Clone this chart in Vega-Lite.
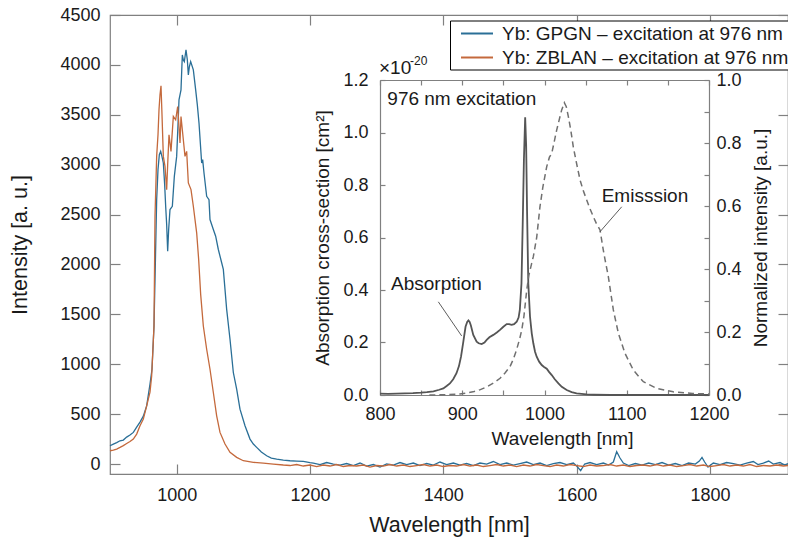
{
  "$schema": "https://vega.github.io/schema/vega-lite/v6.json",
  "width": 678,
  "height": 459,
  "autosize": {"type": "none"},
  "padding": {"left": 110, "top": 15, "right": 0, "bottom": 64},
  "config": {
    "font": "Liberation Sans",
    "view": {"stroke": "#808080", "strokeWidth": 1.2},
    "axis": {"domainColor": "#808080", "tickColor": "#808080", "labelColor": "#1a1a1a", "titleColor": "#1a1a1a", "titleFontWeight": "normal", "grid": false, "labelFlush": false, "labelOverlap": false, "tickWidth": 1.2, "domainWidth": 1.2}
  },
  "datasets": {
    "main": [
      {"s":"GPGN","w":900,"v":183},{"s":"GPGN","w":905,"v":200},{"s":"GPGN","w":910,"v":215},{"s":"GPGN","w":915,"v":233},{"s":"GPGN","w":920,"v":240},{"s":"GPGN","w":925,"v":270},{"s":"GPGN","w":930,"v":290},{"s":"GPGN","w":935,"v":317},{"s":"GPGN","w":940,"v":370},{"s":"GPGN","w":945,"v":420},{"s":"GPGN","w":950,"v":480},{"s":"GPGN","w":955,"v":583},{"s":"GPGN","w":960,"v":800},{"s":"GPGN","w":963,"v":950},{"s":"GPGN","w":966,"v":1383},{"s":"GPGN","w":968,"v":2000},{"s":"GPGN","w":970,"v":2650},{"s":"GPGN","w":972,"v":2950},{"s":"GPGN","w":974,"v":3100},{"s":"GPGN","w":976,"v":3133},{"s":"GPGN","w":978,"v":3080},{"s":"GPGN","w":980,"v":3017},{"s":"GPGN","w":982,"v":2800},{"s":"GPGN","w":983.5,"v":2583},{"s":"GPGN","w":985,"v":2400},{"s":"GPGN","w":986.5,"v":2133},{"s":"GPGN","w":988,"v":2350},{"s":"GPGN","w":990,"v":2550},{"s":"GPGN","w":993.5,"v":2583},{"s":"GPGN","w":996.5,"v":2883},{"s":"GPGN","w":1000,"v":3083},{"s":"GPGN","w":1002,"v":3400},{"s":"GPGN","w":1003.5,"v":3650},{"s":"GPGN","w":1006.5,"v":3750},{"s":"GPGN","w":1008.5,"v":4100},{"s":"GPGN","w":1010,"v":4050},{"s":"GPGN","w":1011.5,"v":4033},{"s":"GPGN","w":1014,"v":4150},{"s":"GPGN","w":1016,"v":4050},{"s":"GPGN","w":1017.5,"v":3900},{"s":"GPGN","w":1019,"v":3980},{"s":"GPGN","w":1021,"v":4033},{"s":"GPGN","w":1025,"v":3950},{"s":"GPGN","w":1028.5,"v":3750},{"s":"GPGN","w":1031,"v":3600},{"s":"GPGN","w":1033.5,"v":3417},{"s":"GPGN","w":1037.5,"v":3017},{"s":"GPGN","w":1039,"v":3050},{"s":"GPGN","w":1041,"v":2917},{"s":"GPGN","w":1045,"v":2683},{"s":"GPGN","w":1048.5,"v":2650},{"s":"GPGN","w":1050,"v":2450},{"s":"GPGN","w":1055,"v":2350},{"s":"GPGN","w":1058.5,"v":2283},{"s":"GPGN","w":1062.5,"v":2150},{"s":"GPGN","w":1067.5,"v":2017},{"s":"GPGN","w":1070,"v":1950},{"s":"GPGN","w":1075,"v":1550},{"s":"GPGN","w":1080,"v":1250},{"s":"GPGN","w":1085,"v":917},{"s":"GPGN","w":1090,"v":750},{"s":"GPGN","w":1095,"v":550},{"s":"GPGN","w":1102.5,"v":383},{"s":"GPGN","w":1110,"v":250},{"s":"GPGN","w":1115,"v":200},{"s":"GPGN","w":1120,"v":167},{"s":"GPGN","w":1127,"v":120},{"s":"GPGN","w":1135,"v":83},{"s":"GPGN","w":1142,"v":60},{"s":"GPGN","w":1150,"v":50},{"s":"GPGN","w":1160,"v":40},{"s":"GPGN","w":1170,"v":33},{"s":"GPGN","w":1180,"v":30},{"s":"GPGN","w":1190,"v":27},{"s":"GPGN","w":1200,"v":15},
      {"s":"GPGN","w":1205,"v":10},{"s":"GPGN","w":1215,"v":-5},{"s":"GPGN","w":1225,"v":15},{"s":"GPGN","w":1235,"v":0},{"s":"GPGN","w":1245,"v":-10},{"s":"GPGN","w":1255,"v":5},{"s":"GPGN","w":1265,"v":-15},{"s":"GPGN","w":1275,"v":10},{"s":"GPGN","w":1285,"v":-20},{"s":"GPGN","w":1295,"v":-5},{"s":"GPGN","w":1305,"v":-30},{"s":"GPGN","w":1315,"v":0},{"s":"GPGN","w":1325,"v":-10},{"s":"GPGN","w":1335,"v":15},{"s":"GPGN","w":1345,"v":-5},{"s":"GPGN","w":1355,"v":10},{"s":"GPGN","w":1365,"v":-15},{"s":"GPGN","w":1375,"v":5},{"s":"GPGN","w":1385,"v":-10},{"s":"GPGN","w":1395,"v":20},{"s":"GPGN","w":1405,"v":-5},{"s":"GPGN","w":1415,"v":10},{"s":"GPGN","w":1425,"v":-10},{"s":"GPGN","w":1435,"v":5},{"s":"GPGN","w":1445,"v":-15},{"s":"GPGN","w":1455,"v":10},{"s":"GPGN","w":1465,"v":0},{"s":"GPGN","w":1475,"v":25},{"s":"GPGN","w":1485,"v":-5},{"s":"GPGN","w":1495,"v":10},{"s":"GPGN","w":1505,"v":-10},{"s":"GPGN","w":1515,"v":5},{"s":"GPGN","w":1525,"v":20},{"s":"GPGN","w":1535,"v":-5},{"s":"GPGN","w":1545,"v":10},{"s":"GPGN","w":1555,"v":-15},{"s":"GPGN","w":1565,"v":5},{"s":"GPGN","w":1575,"v":15},{"s":"GPGN","w":1585,"v":-5},{"s":"GPGN","w":1595,"v":10},{"s":"GPGN","w":1600,"v":-20},{"s":"GPGN","w":1606,"v":-67},{"s":"GPGN","w":1612,"v":0},{"s":"GPGN","w":1620,"v":15},{"s":"GPGN","w":1630,"v":-5},{"s":"GPGN","w":1640,"v":10},{"s":"GPGN","w":1648,"v":-10},{"s":"GPGN","w":1655,"v":20},{"s":"GPGN","w":1660,"v":123},{"s":"GPGN","w":1665,"v":60},{"s":"GPGN","w":1670,"v":10},{"s":"GPGN","w":1678,"v":-15},{"s":"GPGN","w":1688,"v":5},{"s":"GPGN","w":1698,"v":-10},{"s":"GPGN","w":1708,"v":10},{"s":"GPGN","w":1718,"v":-5},{"s":"GPGN","w":1728,"v":15},{"s":"GPGN","w":1738,"v":-10},{"s":"GPGN","w":1748,"v":5},{"s":"GPGN","w":1758,"v":-15},{"s":"GPGN","w":1768,"v":10},{"s":"GPGN","w":1778,"v":0},{"s":"GPGN","w":1784,"v":30},{"s":"GPGN","w":1788,"v":67},{"s":"GPGN","w":1792,"v":20},{"s":"GPGN","w":1797,"v":-30},{"s":"GPGN","w":1805,"v":10},{"s":"GPGN","w":1815,"v":-5},{"s":"GPGN","w":1825,"v":15},{"s":"GPGN","w":1835,"v":5},{"s":"GPGN","w":1845,"v":-10},{"s":"GPGN","w":1855,"v":10},{"s":"GPGN","w":1865,"v":25},{"s":"GPGN","w":1872,"v":-5},{"s":"GPGN","w":1880,"v":10},{"s":"GPGN","w":1888,"v":30},{"s":"GPGN","w":1895,"v":0},{"s":"GPGN","w":1905,"v":15},{"s":"GPGN","w":1912,"v":-10},{"s":"GPGN","w":1917,"v":5},
      {"s":"ZBLAN","w":900,"v":133},{"s":"ZBLAN","w":905,"v":140},{"s":"ZBLAN","w":910,"v":150},{"s":"ZBLAN","w":915,"v":167},{"s":"ZBLAN","w":920,"v":185},{"s":"ZBLAN","w":925,"v":205},{"s":"ZBLAN","w":930,"v":225},{"s":"ZBLAN","w":935,"v":250},{"s":"ZBLAN","w":940,"v":300},{"s":"ZBLAN","w":945,"v":383},{"s":"ZBLAN","w":950,"v":450},{"s":"ZBLAN","w":955,"v":583},{"s":"ZBLAN","w":960,"v":720},{"s":"ZBLAN","w":962.5,"v":883},{"s":"ZBLAN","w":966,"v":1383},{"s":"ZBLAN","w":967.5,"v":2483},{"s":"ZBLAN","w":970,"v":3083},{"s":"ZBLAN","w":972,"v":3300},{"s":"ZBLAN","w":973.5,"v":3550},{"s":"ZBLAN","w":975,"v":3700},{"s":"ZBLAN","w":976.5,"v":3790},{"s":"ZBLAN","w":978,"v":3500},{"s":"ZBLAN","w":980,"v":3083},{"s":"ZBLAN","w":982.5,"v":2983},{"s":"ZBLAN","w":985,"v":2750},{"s":"ZBLAN","w":986.5,"v":3000},{"s":"ZBLAN","w":988.5,"v":3300},{"s":"ZBLAN","w":991.5,"v":3133},{"s":"ZBLAN","w":995,"v":3483},{"s":"ZBLAN","w":998.5,"v":3450},{"s":"ZBLAN","w":1001.5,"v":3583},{"s":"ZBLAN","w":1003.5,"v":3383},{"s":"ZBLAN","w":1005,"v":3217},{"s":"ZBLAN","w":1006.5,"v":3483},{"s":"ZBLAN","w":1010,"v":3250},{"s":"ZBLAN","w":1012.5,"v":3083},{"s":"ZBLAN","w":1015,"v":3133},{"s":"ZBLAN","w":1017.5,"v":2817},{"s":"ZBLAN","w":1021.5,"v":2750},{"s":"ZBLAN","w":1025,"v":2583},{"s":"ZBLAN","w":1030,"v":2317},{"s":"ZBLAN","w":1033,"v":2050},{"s":"ZBLAN","w":1036,"v":1700},{"s":"ZBLAN","w":1040,"v":1383},{"s":"ZBLAN","w":1045,"v":1150},{"s":"ZBLAN","w":1050,"v":950},{"s":"ZBLAN","w":1055,"v":717},{"s":"ZBLAN","w":1060,"v":483},{"s":"ZBLAN","w":1065,"v":317},{"s":"ZBLAN","w":1072.5,"v":200},{"s":"ZBLAN","w":1080,"v":117},{"s":"ZBLAN","w":1090,"v":67},{"s":"ZBLAN","w":1100,"v":33},{"s":"ZBLAN","w":1115,"v":17},{"s":"ZBLAN","w":1130,"v":10},{"s":"ZBLAN","w":1145,"v":0},{"s":"ZBLAN","w":1160,"v":-10},
      {"s":"ZBLAN","w":1170,"v":-15},{"s":"ZBLAN","w":1180,"v":-5},{"s":"ZBLAN","w":1190,"v":-20},{"s":"ZBLAN","w":1200,"v":-10},{"s":"ZBLAN","w":1210,"v":-25},{"s":"ZBLAN","w":1220,"v":-10},{"s":"ZBLAN","w":1230,"v":-20},{"s":"ZBLAN","w":1240,"v":-5},{"s":"ZBLAN","w":1250,"v":-25},{"s":"ZBLAN","w":1260,"v":-15},{"s":"ZBLAN","w":1270,"v":-20},{"s":"ZBLAN","w":1280,"v":-10},{"s":"ZBLAN","w":1290,"v":-30},{"s":"ZBLAN","w":1300,"v":-15},{"s":"ZBLAN","w":1310,"v":-20},{"s":"ZBLAN","w":1320,"v":-5},{"s":"ZBLAN","w":1330,"v":-20},{"s":"ZBLAN","w":1340,"v":-10},{"s":"ZBLAN","w":1350,"v":-25},{"s":"ZBLAN","w":1360,"v":-15},{"s":"ZBLAN","w":1370,"v":-5},{"s":"ZBLAN","w":1380,"v":-20},{"s":"ZBLAN","w":1390,"v":-10},{"s":"ZBLAN","w":1400,"v":-25},{"s":"ZBLAN","w":1410,"v":-15},{"s":"ZBLAN","w":1420,"v":-20},{"s":"ZBLAN","w":1430,"v":-5},{"s":"ZBLAN","w":1440,"v":-20},{"s":"ZBLAN","w":1450,"v":-10},{"s":"ZBLAN","w":1460,"v":-25},{"s":"ZBLAN","w":1470,"v":-15},{"s":"ZBLAN","w":1480,"v":-5},{"s":"ZBLAN","w":1490,"v":-20},{"s":"ZBLAN","w":1500,"v":-10},{"s":"ZBLAN","w":1510,"v":-25},{"s":"ZBLAN","w":1520,"v":-10},{"s":"ZBLAN","w":1530,"v":-20},{"s":"ZBLAN","w":1540,"v":-5},{"s":"ZBLAN","w":1550,"v":-15},{"s":"ZBLAN","w":1560,"v":-25},{"s":"ZBLAN","w":1570,"v":-10},{"s":"ZBLAN","w":1580,"v":-20},{"s":"ZBLAN","w":1590,"v":-5},{"s":"ZBLAN","w":1600,"v":-15},{"s":"ZBLAN","w":1610,"v":-25},{"s":"ZBLAN","w":1620,"v":-10},{"s":"ZBLAN","w":1630,"v":-20},{"s":"ZBLAN","w":1640,"v":-15},{"s":"ZBLAN","w":1650,"v":-5},{"s":"ZBLAN","w":1660,"v":-20},{"s":"ZBLAN","w":1670,"v":-10},{"s":"ZBLAN","w":1680,"v":-25},{"s":"ZBLAN","w":1690,"v":-15},{"s":"ZBLAN","w":1700,"v":-10},{"s":"ZBLAN","w":1710,"v":-20},{"s":"ZBLAN","w":1720,"v":-5},{"s":"ZBLAN","w":1730,"v":-20},{"s":"ZBLAN","w":1740,"v":-10},{"s":"ZBLAN","w":1750,"v":-25},{"s":"ZBLAN","w":1760,"v":-15},{"s":"ZBLAN","w":1770,"v":-5},{"s":"ZBLAN","w":1780,"v":-20},{"s":"ZBLAN","w":1790,"v":-10},{"s":"ZBLAN","w":1800,"v":-25},{"s":"ZBLAN","w":1810,"v":-15},{"s":"ZBLAN","w":1820,"v":-5},{"s":"ZBLAN","w":1830,"v":-20},{"s":"ZBLAN","w":1840,"v":-10},{"s":"ZBLAN","w":1850,"v":-20},{"s":"ZBLAN","w":1860,"v":-5},{"s":"ZBLAN","w":1870,"v":-25},{"s":"ZBLAN","w":1880,"v":-15},{"s":"ZBLAN","w":1890,"v":-20},{"s":"ZBLAN","w":1900,"v":-10},{"s":"ZBLAN","w":1910,"v":-20},{"s":"ZBLAN","w":1917,"v":-15}
    ],
    "abs": [
      {"w":800,"a":0.005},{"w":810,"a":0.004},{"w":820,"a":0.005},{"w":830,"a":0.006},{"w":840,"a":0.007},{"w":850,"a":0.009},{"w":857,"a":0.011},{"w":865,"a":0.014},{"w":872,"a":0.02},{"w":877,"a":0.025},{"w":881,"a":0.034},{"w":885,"a":0.044},{"w":889,"a":0.06},{"w":893,"a":0.083},{"w":896,"a":0.11},{"w":898.5,"a":0.146},{"w":901,"a":0.197},{"w":904,"a":0.26},{"w":906,"a":0.278},{"w":907.5,"a":0.284},{"w":909,"a":0.278},{"w":910.5,"a":0.265},{"w":913.4,"a":0.229},{"w":917.5,"a":0.203},{"w":920,"a":0.197},{"w":923.6,"a":0.194},{"w":927,"a":0.2},{"w":929.7,"a":0.21},{"w":933,"a":0.22},{"w":937.8,"a":0.229},{"w":942,"a":0.238},{"w":945.9,"a":0.248},{"w":950,"a":0.26},{"w":954,"a":0.27},{"w":957,"a":0.27},{"w":960,"a":0.267},{"w":963,"a":0.27},{"w":966.2,"a":0.279},{"w":968.5,"a":0.295},{"w":970,"a":0.324},{"w":972,"a":0.425},{"w":973.5,"a":0.65},{"w":975,"a":0.9},{"w":976.5,"a":1.058},{"w":977.7,"a":0.95},{"w":978.8,"a":0.7},{"w":980.3,"a":0.425},{"w":982.4,"a":0.298},{"w":984.5,"a":0.235},{"w":986.4,"a":0.197},{"w":988.5,"a":0.165},{"w":990.5,"a":0.146},{"w":993.5,"a":0.127},{"w":996.6,"a":0.114},{"w":999.5,"a":0.107},{"w":1002.7,"a":0.1},{"w":1005.5,"a":0.088},{"w":1008.8,"a":0.076},{"w":1012.5,"a":0.06},{"w":1016.9,"a":0.044},{"w":1021,"a":0.031},{"w":1027,"a":0.019},{"w":1033,"a":0.011},{"w":1039,"a":0.006},{"w":1045,"a":0.004},{"w":1051,"a":0.002},{"w":1060,"a":0.001},{"w":1080,"a":0},{"w":1100,"a":0},{"w":1150,"a":0},{"w":1200,"a":0}
    ],
    "emis": [
      {"w":860,"e":0},{"w":880,"e":0.001},{"w":897,"e":0.003},{"w":913,"e":0.01},{"w":922,"e":0.017},{"w":930,"e":0.026},{"w":938,"e":0.038},{"w":946,"e":0.053},{"w":952,"e":0.07},{"w":958,"e":0.09},{"w":962,"e":0.113},{"w":966,"e":0.143},{"w":970,"e":0.18},{"w":972.3,"e":0.206},{"w":975,"e":0.25},{"w":978.4,"e":0.333},{"w":981,"e":0.38},{"w":984.4,"e":0.418},{"w":986.4,"e":0.439},{"w":990.5,"e":0.5},{"w":994.5,"e":0.598},{"w":998,"e":0.66},{"w":1002.7,"e":0.725},{"w":1006,"e":0.755},{"w":1008.8,"e":0.767},{"w":1011.5,"e":0.8},{"w":1014.8,"e":0.841},{"w":1018,"e":0.875},{"w":1020.9,"e":0.905},{"w":1024.1,"e":0.928},{"w":1026.5,"e":0.915},{"w":1029,"e":0.884},{"w":1032,"e":0.84},{"w":1035,"e":0.788},{"w":1039,"e":0.735},{"w":1043.2,"e":0.683},{"w":1047,"e":0.65},{"w":1051.3,"e":0.619},{"w":1055,"e":0.593},{"w":1059.4,"e":0.566},{"w":1063,"e":0.545},{"w":1067.5,"e":0.524},{"w":1071.5,"e":0.46},{"w":1073.6,"e":0.43},{"w":1077.6,"e":0.376},{"w":1083.7,"e":0.27},{"w":1089.8,"e":0.196},{"w":1097.9,"e":0.132},{"w":1108,"e":0.079},{"w":1120.2,"e":0.042},{"w":1136.4,"e":0.021},{"w":1156.6,"e":0.01},{"w":1180,"e":0.005},{"w":1200,"e":0.003}
    ],
    "notes": [
      {"x":808.9,"y":1.128,"t":"976 nm excitation"},
      {"x":813.4,"y":0.423,"t":"Absorption"},
      {"x":1069.5,"y":0.76,"t":"Emisssion"},
      {"x":798.8,"y":1.246,"t":"×10"}
    ],
    "sup": [
      {"x":836.5,"y":1.272,"t":"-20"}
    ],
    "leaders": [
      {"x1":870.9,"y1":0.355,"x2":899.3,"y2":0.225},
      {"x1":1093.9,"y1":0.717,"x2":1067.5,"y2":0.622}
    ]
  },
  "layer": [
    {
      "data": {"name": "main"},
      "mark": {"type": "line", "strokeWidth": 1.3},
      "encoding": {
        "x": {"field": "w", "type": "quantitative", "scale": {"domain": [900, 1917], "nice": false, "zero": false},
              "axis": {"orient": "bottom", "values": [1000, 1200, 1400, 1600, 1800], "format": "d", "tickSize": -10, "labelPadding": 22, "labelFontSize": 18, "title": "Wavelength [nm]", "titleFontSize": 21.5, "titlePadding": 10, "domain": false}},
        "y": {"field": "v", "type": "quantitative", "scale": {"domain": [-100, 4500], "nice": false, "zero": false},
              "axis": {"orient": "left", "values": [0, 500, 1000, 1500, 2000, 2500, 3000, 3500, 4000, 4500], "format": "d", "tickSize": -10, "labelPadding": 20, "labelFontSize": 18, "title": "Intensity [a. u.]", "titleFontSize": 21.5, "titlePadding": 28, "domain": false}},
        "color": {"field": "s", "type": "nominal", "scale": {"domain": ["GPGN", "ZBLAN"], "range": ["#2a6f97", "#c4693c"]},
                  "legend": {"orient": "none", "legendX": 340, "legendY": 5.5, "title": null, "symbolType": "M-0.2,0H3", "symbolSize": 400, "symbolStrokeWidth": 2, "labelFontSize": 19, "labelOffset": 28, "labelLimit": 400, "padding": 2, "rowPadding": 3, "strokeColor": "#000000", "fillColor": "#ffffff", "labelColor": "#1a1a1a",
                             "labelExpr": "'Yb: ' + datum.label + ' – excitation at 976 nm'"}}
      }
    },
    {
      "data": {"name": "main"},
      "mark": {"type": "point", "opacity": 0},
      "encoding": {
        "x": {"field": "w", "type": "quantitative", "scale": {"domain": [900, 1917], "nice": false, "zero": false},
              "axis": {"orient": "top", "values": [1000, 1200, 1400, 1600, 1800], "tickSize": -10, "labels": false, "domain": false, "title": null}},
        "y": {"field": "v", "type": "quantitative", "scale": {"domain": [-100, 4500], "nice": false, "zero": false},
              "axis": {"orient": "right", "values": [0, 500, 1000, 1500, 2000, 2500, 3000, 3500, 4000, 4500], "tickSize": -10, "labels": false, "domain": false, "title": null}}
      }
    },
    {
      "data": {"name": "abs"},
      "mark": {"type": "line", "color": "#555555", "strokeWidth": 1.8},
      "encoding": {
        "x": {"field": "w", "type": "quantitative", "scale": {"domain": [800, 1200], "range": [270, 599], "nice": false, "zero": false},
              "axis": {"orient": "bottom", "offset": -79, "values": [800, 850, 900, 950, 1000, 1050, 1100, 1150, 1200], "format": "d", "labelExpr": "datum.value % 100 == 0 ? datum.label : ''", "tickSize": -5, "labelPadding": 15, "labelFontSize": 18, "title": "Wavelength [nm]", "titleFontSize": 19, "titlePadding": 6, "titleX": 452}},
        "y": {"field": "a", "type": "quantitative", "scale": {"domain": [0, 1.2], "range": [380, 65], "nice": false, "zero": false},
              "axis": {"orient": "left", "offset": -270, "values": [0, 0.2, 0.4, 0.6, 0.8, 1, 1.2], "format": ".1f", "tickSize": -5, "labelPadding": 17, "labelFontSize": 18, "title": "Absorption cross-section [cm²]", "titleFontSize": 19, "titlePadding": 10}}
      }
    },
    {
      "data": {"name": "emis"},
      "mark": {"type": "line", "color": "#707070", "strokeWidth": 1.5, "strokeDash": [6, 4]},
      "encoding": {
        "x": {"field": "w", "type": "quantitative", "scale": {"domain": [800, 1200], "range": [270, 599], "nice": false, "zero": false},
              "axis": {"orient": "top", "offset": -65, "values": [800, 850, 900, 950, 1000, 1050, 1100, 1150, 1200], "tickSize": -5, "labels": false, "title": null}},
        "y": {"field": "e", "type": "quantitative", "scale": {"domain": [0, 1], "range": [380, 65], "nice": false, "zero": false},
              "axis": {"orient": "right", "offset": -79, "values": [0, 0.1, 0.2, 0.3, 0.4, 0.5, 0.6, 0.7, 0.8, 0.9, 1], "labelExpr": "abs(round(datum.value * 10) % 2) == 0 ? format(datum.value, '.1f') : ''", "tickSize": -5, "labelPadding": 12, "labelFontSize": 18, "title": "Normalized intensity [a.u.]", "titleFontSize": 19, "titleAngle": 270, "titleBaseline": "top", "titlePadding": 10}}
      }
    },
    {
      "data": {"name": "notes"},
      "mark": {"type": "text", "align": "left", "baseline": "middle", "fontSize": 19, "color": "#1a1a1a"},
      "encoding": {
        "x": {"field": "x", "type": "quantitative", "scale": {"domain": [800, 1200], "range": [270, 599], "nice": false, "zero": false}, "axis": null},
        "y": {"field": "y", "type": "quantitative", "scale": {"domain": [0, 1.2], "range": [380, 65], "nice": false, "zero": false}, "axis": null},
        "text": {"field": "t"}
      }
    },
    {
      "data": {"name": "sup"},
      "mark": {"type": "text", "align": "left", "baseline": "middle", "fontSize": 12, "color": "#1a1a1a"},
      "encoding": {
        "x": {"field": "x", "type": "quantitative", "scale": {"domain": [800, 1200], "range": [270, 599], "nice": false, "zero": false}, "axis": null},
        "y": {"field": "y", "type": "quantitative", "scale": {"domain": [0, 1.2], "range": [380, 65], "nice": false, "zero": false}, "axis": null},
        "text": {"field": "t"}
      }
    },
    {
      "data": {"name": "leaders"},
      "mark": {"type": "rule", "color": "#333333", "strokeWidth": 0.8},
      "encoding": {
        "x": {"field": "x1", "type": "quantitative", "scale": {"domain": [800, 1200], "range": [270, 599], "nice": false, "zero": false}, "axis": null},
        "y": {"field": "y1", "type": "quantitative", "scale": {"domain": [0, 1.2], "range": [380, 65], "nice": false, "zero": false}, "axis": null},
        "x2": {"field": "x2"},
        "y2": {"field": "y2"}
      }
    }
  ],
  "resolve": {"scale": {"x": "independent", "y": "independent"}}
}
